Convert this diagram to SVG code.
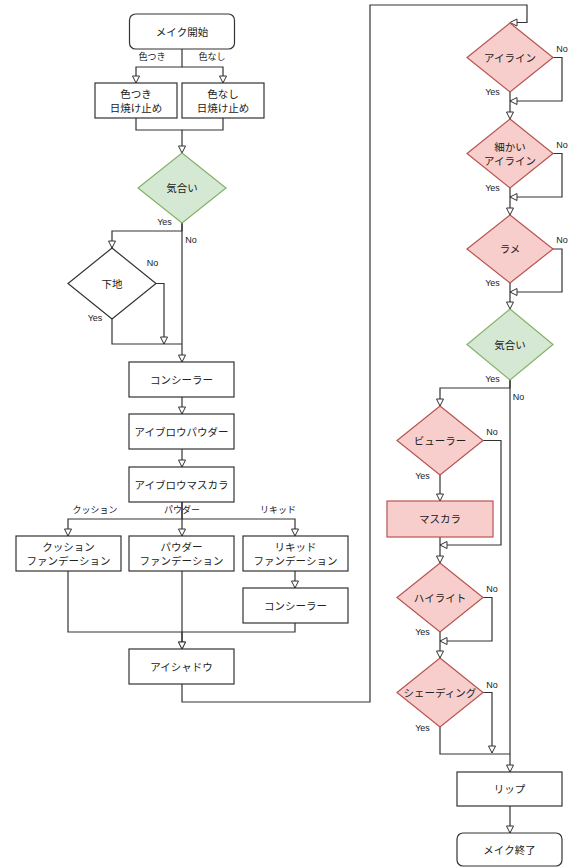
<svg xmlns="http://www.w3.org/2000/svg" width="569" height="868" viewBox="0 0 569 868">
<defs>
<style>
text{font-family:"Liberation Sans","Noto Sans CJK JP",sans-serif;fill:#222;text-anchor:middle;dominant-baseline:central}
.n{font-size:10.5px}
.l{font-size:9px}
.box{fill:#fff;stroke:#333;stroke-width:1.2}
.pk{fill:#f8cecc;stroke:#b85450;stroke-width:1.2}
.gr{fill:#d5e8d4;stroke:#82b366;stroke-width:1.2}
.c{fill:none;stroke:#333;stroke-width:1.2;marker-end:url(#a)}
.c0{fill:none;stroke:#333;stroke-width:1.2}
</style>
<marker id="a" markerUnits="userSpaceOnUse" markerWidth="10" markerHeight="10" viewBox="-1 -1 10 9" refX="7" refY="3.5" orient="auto">
<path d="M0,0 L7,3.5 L0,7 z" fill="#fff" stroke="#333" stroke-width="1"/>
</marker>
</defs>
<rect width="569" height="868" fill="#fff"/>
<g id="connectors">
<path class="c" d="M182,49 V67 H136 V83"/>
<path class="c" d="M182,67 H223 V83"/>
<path class="c" d="M136,118 V130 H182 V153"/>
<path class="c0" d="M223,118 V130 H182"/>
<path class="c" d="M182,223 V231 H112 V248"/>
<path class="c" d="M182,223 V362"/>
<path class="c" d="M156,283.5 H164 V344"/>
<path class="c0" d="M112,319 V344 H182"/>
<path class="c" d="M182,397 V414"/>
<path class="c" d="M182,449 V467"/>
<path class="c" d="M182,502 V519 H68 V536"/>
<path class="c" d="M182,502 V536"/>
<path class="c" d="M182,519 H295 V536"/>
<path class="c" d="M295,571 V588"/>
<path class="c" d="M68,571 V632 H182 V649"/>
<path class="c" d="M182,571 V649"/>
<path class="c0" d="M295,623 V632 H182"/>
<path class="c" d="M182,684 V702 H370 V5 H527 V22.5 H510"/>
<path class="c" d="M553,57.5 H562 V101 H510"/>
<path class="c" d="M510,92 V119"/>
<path class="c" d="M553,153.5 H562 V197 H510"/>
<path class="c" d="M510,188 V215"/>
<path class="c" d="M553,249 H562 V292 H510"/>
<path class="c" d="M510,283 V309"/>
<path class="c" d="M510,380 V388 H440 V406"/>
<path class="c" d="M510,380 V772"/>
<path class="c" d="M483,440.5 H501 V545 H440"/>
<path class="c" d="M440,475 V501"/>
<path class="c" d="M440,537 V563"/>
<path class="c" d="M483,597.5 H492 V641 H440"/>
<path class="c" d="M440,632 V658"/>
<path class="c" d="M483,692.5 H492 V753"/>
<path class="c0" d="M440,727 V754 H510"/>
<path class="c" d="M510,806 V833"/>
<text class="l" x="152" y="57">色つき</text>
<text class="l" x="212" y="57">色なし</text>
<text class="l" x="164.5" y="222">Yes</text>
<text class="l" x="191" y="240">No</text>
<text class="l" x="152.5" y="263">No</text>
<text class="l" x="95" y="318">Yes</text>
<text class="l" x="95" y="510">クッション</text>
<text class="l" x="182" y="510">パウダー</text>
<text class="l" x="278" y="510">リキッド</text>
<text class="l" x="562" y="49">No</text>
<text class="l" x="492.5" y="92">Yes</text>
<text class="l" x="562" y="145">No</text>
<text class="l" x="492.5" y="188">Yes</text>
<text class="l" x="562" y="240">No</text>
<text class="l" x="492.5" y="283">Yes</text>
<text class="l" x="492.5" y="379">Yes</text>
<text class="l" x="518.5" y="397">No</text>
<text class="l" x="492" y="432">No</text>
<text class="l" x="422.5" y="476">Yes</text>
<text class="l" x="492" y="589">No</text>
<text class="l" x="422.5" y="632">Yes</text>
<text class="l" x="492" y="685">No</text>
<text class="l" x="422.5" y="728">Yes</text>
</g>
<g id="start"><rect class="box" x="129.5" y="14" width="105" height="35" rx="6"/><text class="n" x="182" y="31.5">メイク開始</text></g>
<g id="sun-color"><rect class="box" x="95" y="83" width="82" height="35"/><text class="n" x="136" y="93.5">色つき</text><text class="n" x="136" y="107.5">日焼け止め</text></g>
<g id="sun-clear"><rect class="box" x="182" y="83" width="82" height="35"/><text class="n" x="223" y="93.5">色なし</text><text class="n" x="223" y="107.5">日焼け止め</text></g>
<g id="kiai1"><path class="gr" d="M182,153 L226,188 L182,223 L138,188 Z"/><text class="n" x="182" y="188">気合い</text></g>
<g id="shitaji"><path class="box" d="M112,248 L156,283.5 L112,319 L68,283.5 Z"/><text class="n" x="112" y="283.5">下地</text></g>
<g id="concealer1"><rect class="box" x="129" y="362" width="105" height="35"/><text class="n" x="181.5" y="379.5">コンシーラー</text></g>
<g id="brow-powder"><rect class="box" x="129" y="414" width="105" height="35"/><text class="n" x="181.5" y="431.5">アイブロウパウダー</text></g>
<g id="brow-mascara"><rect class="box" x="129" y="467" width="105" height="35"/><text class="n" x="181.5" y="484.5">アイブロウマスカラ</text></g>
<g id="cushion"><rect class="box" x="16" y="536" width="105" height="35"/><text class="n" x="68.5" y="546.5">クッション</text><text class="n" x="68.5" y="560.5">ファンデーション</text></g>
<g id="powder"><rect class="box" x="129" y="536" width="105" height="35"/><text class="n" x="181.5" y="546.5">パウダー</text><text class="n" x="181.5" y="560.5">ファンデーション</text></g>
<g id="liquid"><rect class="box" x="243" y="536" width="105" height="35"/><text class="n" x="295.5" y="546.5">リキッド</text><text class="n" x="295.5" y="560.5">ファンデーション</text></g>
<g id="concealer2"><rect class="box" x="243" y="588" width="105" height="35"/><text class="n" x="295.5" y="605.5">コンシーラー</text></g>
<g id="eyeshadow"><rect class="box" x="129" y="649" width="105" height="35"/><text class="n" x="181.5" y="666.5">アイシャドウ</text></g>
<g id="eyeline"><path class="pk" d="M510,23 L553,57.5 L510,92 L467,57.5 Z"/><text class="n" x="510" y="57.5">アイライン</text></g>
<g id="fine-eyeline"><path class="pk" d="M510,119 L553,153.5 L510,188 L467,153.5 Z"/><text class="n" x="510" y="146.5">細かい</text><text class="n" x="510" y="160.5">アイライン</text></g>
<g id="lame"><path class="pk" d="M510,215 L553,249 L510,283 L467,249 Z"/><text class="n" x="510" y="249">ラメ</text></g>
<g id="kiai2"><path class="gr" d="M510,309 L553,344.5 L510,380 L467,344.5 Z"/><text class="n" x="510" y="344.5">気合い</text></g>
<g id="curler"><path class="pk" d="M440,406 L483,440.5 L440,475 L397,440.5 Z"/><text class="n" x="440" y="440.5">ビューラー</text></g>
<g id="mascara"><rect class="pk" x="387" y="501" width="106" height="36"/><text class="n" x="440" y="519">マスカラ</text></g>
<g id="highlight"><path class="pk" d="M440,563 L483,597.5 L440,632 L397,597.5 Z"/><text class="n" x="440" y="597.5">ハイライト</text></g>
<g id="shading"><path class="pk" d="M440,658 L483,692.5 L440,727 L397,692.5 Z"/><text class="n" x="440" y="692.5">シェーディング</text></g>
<g id="lip"><rect class="box" x="457" y="772" width="105" height="34"/><text class="n" x="509.5" y="789">リップ</text></g>
<g id="end"><rect class="box" x="457" y="833" width="105" height="33" rx="6"/><text class="n" x="509.5" y="849.5">メイク終了</text></g>
</svg>
